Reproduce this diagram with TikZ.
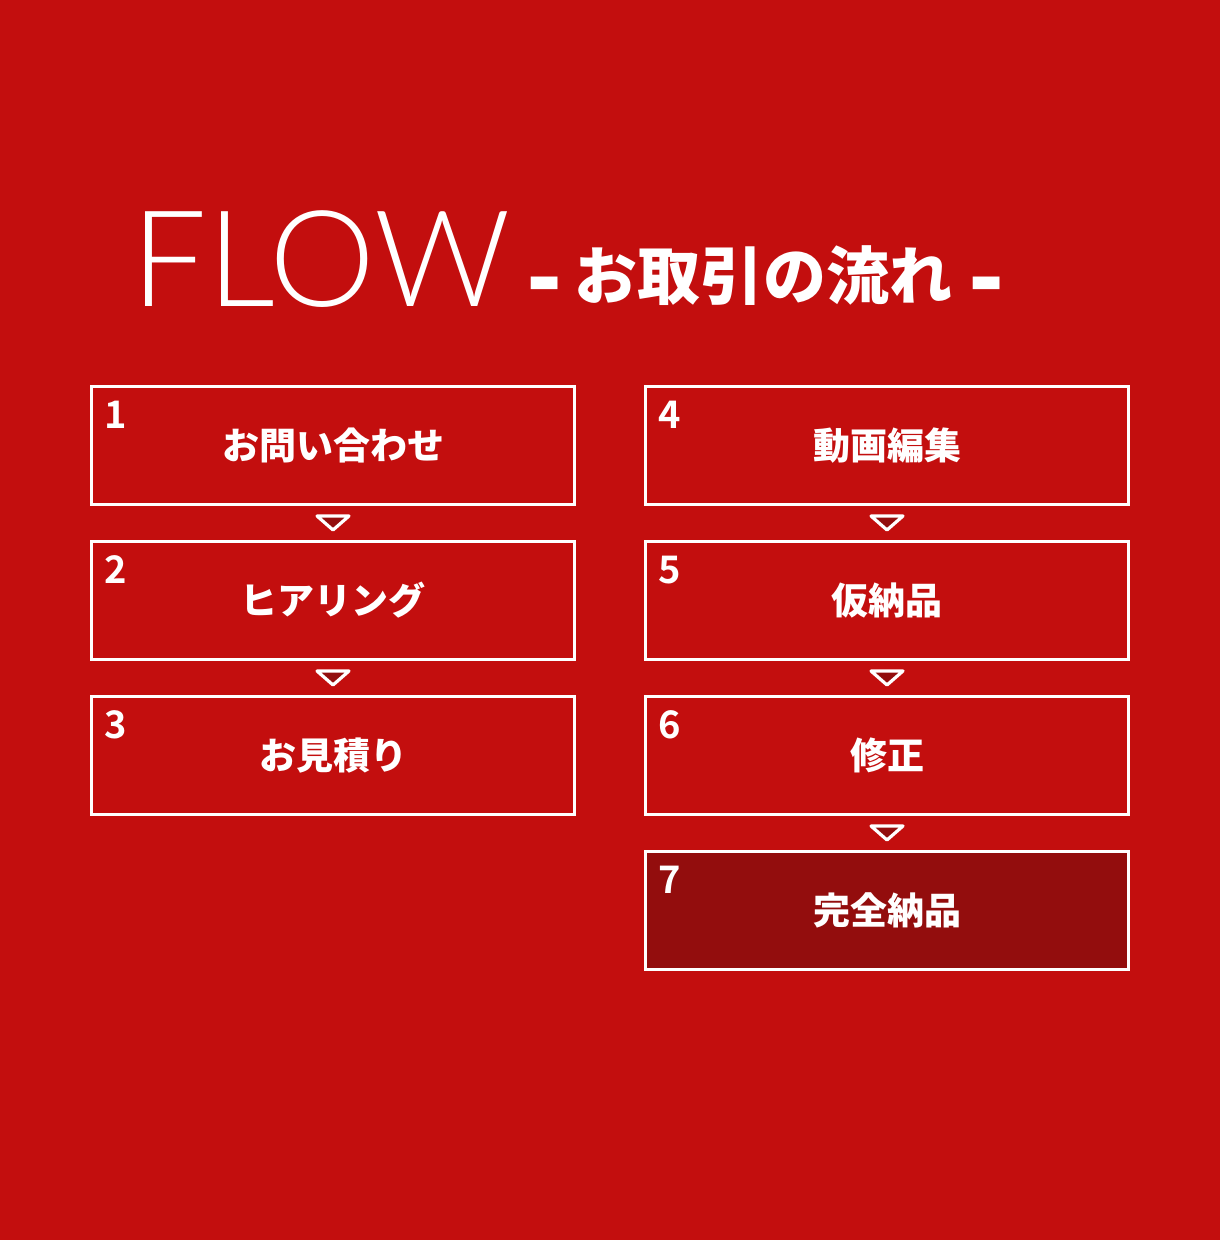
\documentclass[tikz,border=0pt]{standalone}
\usepackage{fontspec}
\usepackage{graphicx}
\usetikzlibrary{positioning,calc}

\newfontfamily\jpbold{Noto Sans CJK JP Bold}
\IfFontExistsTF{Noto Sans CJK JP Black}
  {\newfontfamily\jpblack{Noto Sans CJK JP Black}}
  {\newfontfamily\jpblack{Noto Sans CJK JP Bold}}
\newfontfamily\lightfont{Lato Light}
\definecolor{bgred}{HTML}{C30E0E}
\definecolor{darkred}{HTML}{930D0D}
\newcommand\thickdash{\raisebox{-6.3pt}{\scalebox{1.5}[1.6]{-}}}

\tikzset{
  stepbox/.style={draw=white, line width=1.5pt, minimum width=241.5pt,
    minimum height=59pt, inner sep=0pt, text=white,
    font=\jpblack\fontsize{18.5}{18.5}\selectfont},
  numlabel/.style={inner sep=0pt, text=white, font=\jpbold\fontsize{19}{19}\selectfont},
  tri/.style={draw=white, fill=darkred, line width=1.6pt, line join=round}
}

\begin{document}
\begin{tikzpicture}[x=0.5pt, y=-0.5pt]
\fill [bgred] (0,0) rectangle (1220,1240);
\useasboundingbox (0,0) rectangle (1220,1240);
% title
\node [anchor=base west, inner sep=0pt, text=white] (flow) at (131,307)
  {\lightfont\fontsize{67}{67}\selectfont FLOW};
\node [anchor=base west, inner sep=0pt, text=white] (sub) at (526,300)
  {\jpblack\fontsize{31.5}{31.5}\selectfont \thickdash\hspace{6pt}お取引の流れ\hspace{8pt}\thickdash};
% steps
\node [stepbox] (b1) at (333,445.5) {お問い合わせ};
\node [stepbox, below=17pt of b1] (b2) {ヒアリング};
\node [stepbox, below=17pt of b2] (b3) {お見積り};
\node [stepbox, right=34pt of b1] (b4) {動画編集};
\node [stepbox, below=17pt of b4] (b5) {仮納品};
\node [stepbox, below=17pt of b5] (b6) {修正};
\node [stepbox, below=17pt of b6, fill=darkred] (b7) {完全納品};
\foreach \i in {1,...,7}
  \node [numlabel] (n\i) at ([xshift=13pt,yshift=-15pt]b\i.north west) {\i};
% arrows
\foreach \a/\b in {1/2,2/3,4/5,5/6,6/7}
  \draw [tri] ($(b\a.south)!0.5!(b\b.north)+(-16,-7)$) -- ++(32,0) -- ++(-16,14) -- cycle;
\end{tikzpicture}
\end{document}
